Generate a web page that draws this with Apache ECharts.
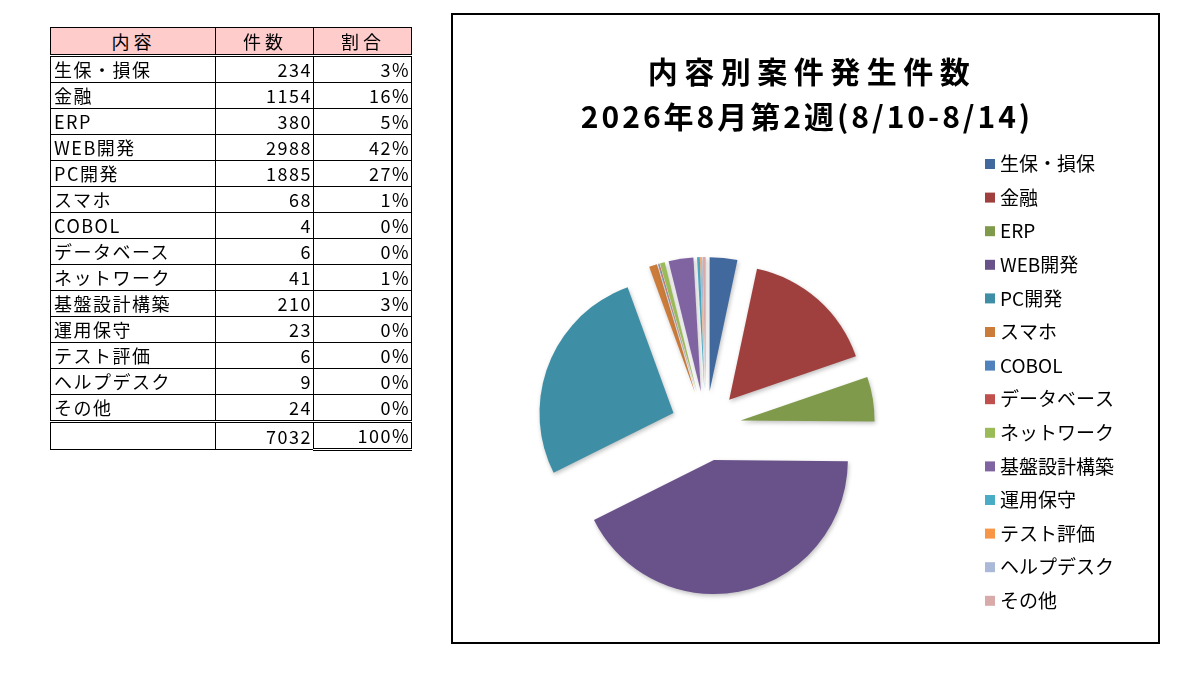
<!DOCTYPE html>
<html>
<head>
<meta charset="utf-8">
<script src="https://cdn.jsdelivr.net/npm/echarts@6/dist/echarts.min.js"></script>
<style>
  html, body { margin: 0; padding: 0; background: #fff; }
  #main { position: absolute; left: 0; top: 0; width: 1186px; height: 689px; }
  #tbl {
    position: absolute; left: 50px; top: 27px;
    border-collapse: collapse; table-layout: fixed; width: 361px;
    font-family: "Noto Sans CJK JP", sans-serif;
    font-size: 18px; color: #000; letter-spacing: 1.5px;
  }
  #tbl td, #tbl th {
    border: 1px solid #000; padding: 0 2px 0 3px; height: 25px; line-height: 25px;
    font-weight: normal; white-space: nowrap; overflow: hidden;
  }
  #tbl th { background: #ffcccc; text-align: center; height: 26px; border-bottom: 3px double #000; letter-spacing: 4px; }
  #tbl td.num { text-align: right; padding-right: 1px; }
  #tbl tr.total td { border-top: 3px double #000; }
  #tbl tr.total td.last { border-bottom: 3px double #000; }
  .ttl {
    position: absolute; left: 452px; width: 707px; text-align: center;
    font-family: "Noto Sans CJK JP", sans-serif; font-weight: bold; font-size: 30px;
    line-height: 36px; color: #000; white-space: nowrap;
  }
</style>
</head>
<body>
<div id="main"></div>
<table id="tbl">
  <colgroup><col style="width:165px"><col style="width:98px"><col style="width:98px"></colgroup>
</table>
<div class="ttl" id="t1" style="top:52px; letter-spacing:6.5px; padding-left:13px; box-sizing:border-box;"></div>
<div class="ttl" id="t2" style="top:97px; letter-spacing:3px; padding-left:3px; box-sizing:border-box;"></div>
<script>
// 内容別の件数
var categories = ['生保・損保', '金融', 'ERP', 'WEB開発', 'PC開発', 'スマホ', 'COBOL',
  'データベース', 'ネットワーク', '基盤設計構築', '運用保守', 'テスト評価', 'ヘルプデスク', 'その他'];
var counts = [234, 1154, 380, 2988, 1885, 68, 4, 6, 41, 210, 23, 6, 9, 24];
var colors = ['#41699d', '#a0403e', '#7f9a4a', '#69528a', '#3e8fa5', '#cb7c3b', '#4f81bd',
  '#c0504d', '#9bbb59', '#8064a2', '#4bacc6', '#f79646', '#a9b9d7', '#d8aaa9'];
var headers = ['内容', '件数', '割合'];
var titleLines = ['内容別案件発生件数', '2026年8月第2週(8/10-8/14)'];

var total = 0;
for (var i = 0; i < counts.length; i++) total += counts[i];

// タイトル
document.getElementById('t1').textContent = titleLines[0];
document.getElementById('t2').textContent = titleLines[1];

// 表を作る
var tbl = document.getElementById('tbl');
var html = '<tr><th>' + headers[0] + '</th><th>' + headers[1] + '</th><th>' + headers[2] + '</th></tr>';
for (var i = 0; i < categories.length; i++) {
  html += '<tr><td>' + categories[i] + '</td><td class="num">' + counts[i] + '</td><td class="num">' +
    Math.round(counts[i] / total * 100) + '%</td></tr>';
}
html += '<tr class="total"><td></td><td class="num">' + total + '</td><td class="num last">100%</td></tr>';
tbl.insertAdjacentHTML('beforeend', html);

var myChart = echarts.init(document.getElementById('main'));

var data = [];
for (var i = 0; i < categories.length; i++) {
  data.push({ name: categories[i], value: counts[i], selected: true });
}

var option = {
  color: colors,
  animation: false,
  legend: {
    orient: 'vertical',
    left: 980,
    top: 149,
    itemWidth: 10,
    itemHeight: 10,
    itemGap: 13.6,
    icon: 'rect',
    selectedMode: false,
    textStyle: {
      fontFamily: '"Noto Sans CJK JP", sans-serif',
      fontSize: 19,
      lineHeight: 20,
      color: '#000'
    },
    data: categories
  },
  graphic: [{
    type: 'rect',
    shape: { x: 452, y: 14, width: 707, height: 629 },
    style: { fill: 'none', stroke: '#000', lineWidth: 2 },
    silent: true
  }],
  series: [{
    type: 'pie',
    center: [706, 426],
    radius: 134,
    startAngle: 90,
    clockwise: true,
    selectedMode: 'multiple',
    selectedOffset: 35,
    label: { show: false },
    labelLine: { show: false },
    itemStyle: {
      shadowBlur: 4,
      shadowColor: 'rgba(0,0,0,0.25)',
      shadowOffsetX: 1,
      shadowOffsetY: 2
    },
    emphasis: { disabled: true },
    data: data
  }]
};

myChart.setOption(option);
</script>
</body>
</html>
